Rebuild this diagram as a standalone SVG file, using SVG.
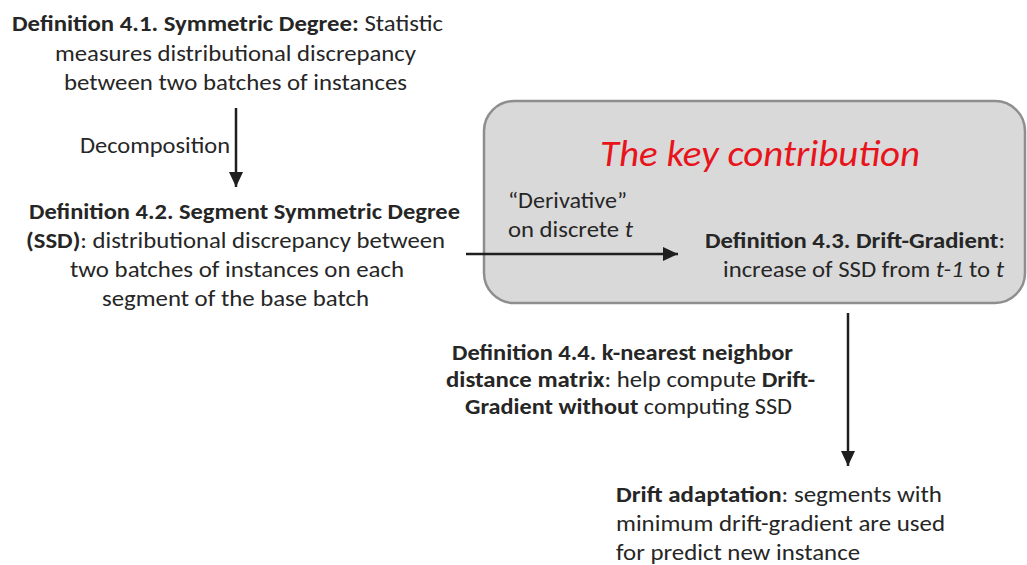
<svg xmlns="http://www.w3.org/2000/svg" width="1027" height="565" viewBox="0 0 1027 565">
  <defs>
    <marker id="arrowhead" markerUnits="userSpaceOnUse" markerWidth="16" markerHeight="14" refX="15" refY="7" orient="auto">
      <path d="M0,0 L15,7 L0,14 Z" fill="#1f1f1f"/>
    </marker>
    <style>
      text { font-family: "Carlito", "Lato", "Liberation Sans", sans-serif; font-size: 22px; fill: #262626; }
      .b { font-weight: 700; }
      .i { font-style: italic; }
      .title { font-size: 36px; font-style: italic; fill: #e8141c; }
      .edge { stroke: #1f1f1f; stroke-width: 2.5; fill: none; marker-end: url(#arrowhead); }
      .panel { fill: #d9d9d9; stroke: #8e8e8e; stroke-width: 2.5; }
    </style>
  </defs>

  <rect width="1027" height="565" fill="#ffffff"/>

  <!-- highlighted panel around the main definition -->
  <g id="key-contribution">
    <rect class="panel" x="484" y="101" width="541" height="202" rx="30" ry="30"/>
    <text class="title" x="600" y="166" textLength="320" lengthAdjust="spacingAndGlyphs">The key contribution</text>
  </g>

  <!-- arrows between the definitions -->
  <g id="connectors">
    <line class="edge" x1="236" y1="108" x2="236" y2="187"/>
    <text x="80" y="153" textLength="150" lengthAdjust="spacingAndGlyphs">Decomposition</text>

    <line class="edge" x1="466" y1="254" x2="678" y2="254"/>
    <text x="508" y="208" textLength="119" lengthAdjust="spacingAndGlyphs">“Derivative”</text>
    <text x="508" y="237" textLength="125" lengthAdjust="spacingAndGlyphs">on discrete <tspan class="i">t</tspan></text>

    <line class="edge" x1="848" y1="313" x2="848" y2="466"/>
  </g>

  <g id="def-4-1">
    <text x="12" y="31" textLength="431" lengthAdjust="spacingAndGlyphs"><tspan class="b">Definition 4.1. Symmetric Degree:</tspan> Statistic</text>
    <text x="55" y="61" textLength="361" lengthAdjust="spacingAndGlyphs">measures distributional discrepancy</text>
    <text x="64" y="90" textLength="343" lengthAdjust="spacingAndGlyphs">between two batches of instances</text>
  </g>

  <g id="def-4-2">
    <text x="29" y="219" textLength="431" lengthAdjust="spacingAndGlyphs" class="b">Definition 4.2. Segment Symmetric Degree</text>
    <text x="26" y="248" textLength="419" lengthAdjust="spacingAndGlyphs"><tspan class="b">(SSD)</tspan>: distributional discrepancy between</text>
    <text x="70" y="277" textLength="334" lengthAdjust="spacingAndGlyphs">two batches of instances on each</text>
    <text x="102" y="306" textLength="267" lengthAdjust="spacingAndGlyphs">segment of the base batch</text>
  </g>

  <g id="def-4-3">
    <text x="705" y="248" textLength="300" lengthAdjust="spacingAndGlyphs"><tspan class="b">Definition 4.3. Drift-Gradient</tspan>:</text>
    <text x="723" y="277" textLength="281" lengthAdjust="spacingAndGlyphs">increase of SSD from <tspan class="i">t-1</tspan> to <tspan class="i">t</tspan></text>
  </g>

  <g id="def-4-4">
    <text x="452" y="360" textLength="341" lengthAdjust="spacingAndGlyphs" class="b">Definition 4.4. k-nearest neighbor</text>
    <text x="446" y="387" textLength="369" lengthAdjust="spacingAndGlyphs"><tspan class="b">distance matrix</tspan>: help compute <tspan class="b">Drift-</tspan></text>
    <text x="465" y="414" textLength="327" lengthAdjust="spacingAndGlyphs"><tspan class="b">Gradient without</tspan> computing SSD</text>
  </g>

  <g id="drift-adaptation">
    <text x="616" y="502" textLength="326" lengthAdjust="spacingAndGlyphs"><tspan class="b">Drift adaptation</tspan>: segments with</text>
    <text x="616" y="531" textLength="329" lengthAdjust="spacingAndGlyphs">minimum drift-gradient are used</text>
    <text x="616" y="560" textLength="244" lengthAdjust="spacingAndGlyphs">for predict new instance</text>
  </g>
</svg>
